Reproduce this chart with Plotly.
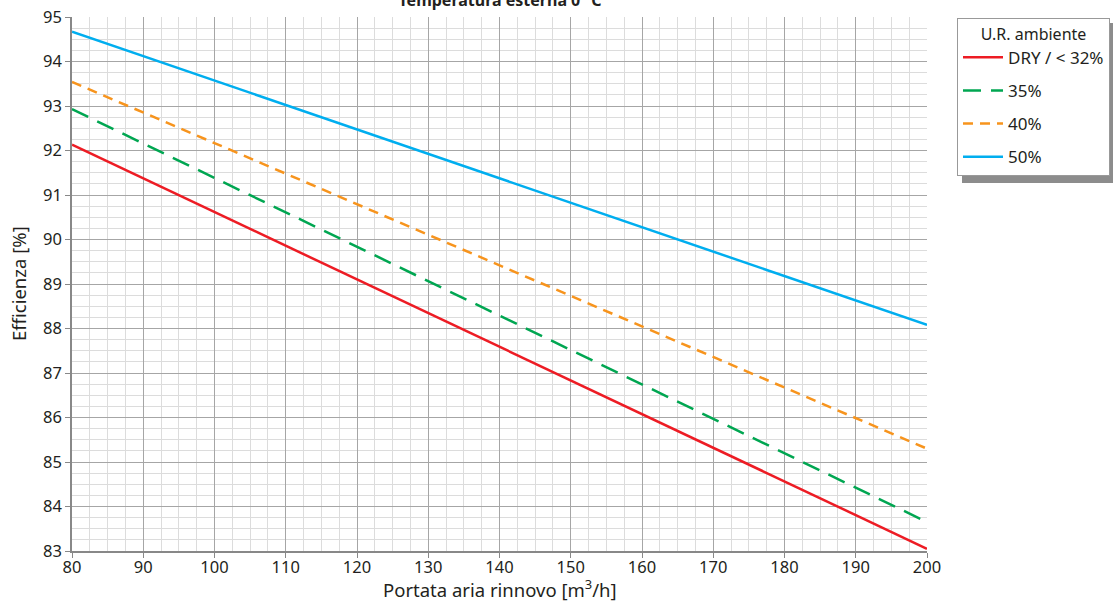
import plotly.graph_objects as go

portata = [80, 200]
dry = [92.13, 83.05]
ur35 = [92.93, 83.65]
ur40 = [93.54, 85.3]
ur50 = [94.67, 88.08]

names = ["DRY / < 32%", "35%", "40%", "50%"]
series = [dry, ur35, ur40, ur50]
colors = ["#ed1c24", "#00a651", "#f7941d", "#00aeef"]
dashes = ["solid", "18px,10px", "10px,7px", "solid"]

x_ticks = list(range(80, 201, 10))
y_ticks = list(range(83, 96))

FONT = "Noto Sans"
TXT = "#231f20"

L, R, T, B = 72, 192, 17, 52
W, H = 1119, 603
PW, PH = W - L - R, H - T - B


def px_x(p):
    return (p - L) / PW


def px_y(p):
    return (H - B - p) / PH


fig = go.Figure()
for i, (n, s, c, d) in enumerate(zip(names, series, colors, dashes)):
    fig.add_trace(go.Scatter(x=portata, y=s, mode="lines", name=n,
                             legendgroup=f"g{i}",
                             line=dict(color=c, width=2.5, dash=d)))

# legend shadow
fig.add_shape(type="rect", xref="paper", yref="paper",
              x0=px_x(962), x1=px_x(1113), y0=px_y(183), y1=px_y(23),
              fillcolor="#8c8c8c", line=dict(width=0), layer="below")

# axis titles
fig.add_annotation(text="Portata aria rinnovo [m<sup>3</sup>/h]", xref="paper", yref="paper",
                   x=0.5, y=px_y(588), xanchor="center", yanchor="middle",
                   showarrow=False, font=dict(size=18.5, family=FONT, color=TXT))
fig.add_annotation(text="Efficienza [%]", xref="paper", yref="paper",
                   x=px_x(18), y=0.5, xanchor="center", yanchor="middle", textangle=-90,
                   showarrow=False, font=dict(size=18.5, family=FONT, color=TXT))

fig.update_layout(
    width=W, height=H,
    margin=dict(l=L, r=R, t=T, b=B, autoexpand=False),
    paper_bgcolor="white", plot_bgcolor="white",
    font=dict(family=FONT, color=TXT, size=16),
    title=dict(text="<b>Temperatura esterna 0 °C</b>", x=500 / W,
               xanchor="center", y=0.999, yanchor="middle", yref="container",
               font=dict(size=16, family=FONT, color=TXT)),
    showlegend=True,
    legend=dict(
        title=dict(text="U.R. ambiente", side="top center", font=dict(size=16)),
        x=px_x(957), xref="paper", xanchor="left",
        y=px_y(18), yanchor="top",
        bgcolor="white", bordercolor="#999999", borderwidth=1,
        font=dict(size=17, color=TXT),
        tracegroupgap=8, itemwidth=40,
    ),
)

fig.update_xaxes(
    range=[80, 200], tickvals=x_ticks, ticks="outside", ticklen=5,
    tickcolor="#888888", showline=True, linecolor="#888888", linewidth=1.5,
    gridcolor="#a6a6a6", gridwidth=1, zeroline=False, automargin=False,
    minor=dict(dtick=2.5, showgrid=True, gridcolor="#dcdcdc", gridwidth=1),
    tickfont=dict(size=16.5), ticklabelstandoff=-5,
)
fig.update_yaxes(
    range=[83, 95], tickvals=y_ticks, ticks="outside", ticklen=5,
    tickcolor="#888888", showline=True, linecolor="#888888", linewidth=1.5,
    gridcolor="#a6a6a6", gridwidth=1, zeroline=False, automargin=False,
    minor=dict(dtick=0.25, showgrid=True, gridcolor="#dcdcdc", gridwidth=1),
    tickfont=dict(size=16.5),
)

fig.write_html("out.html")
